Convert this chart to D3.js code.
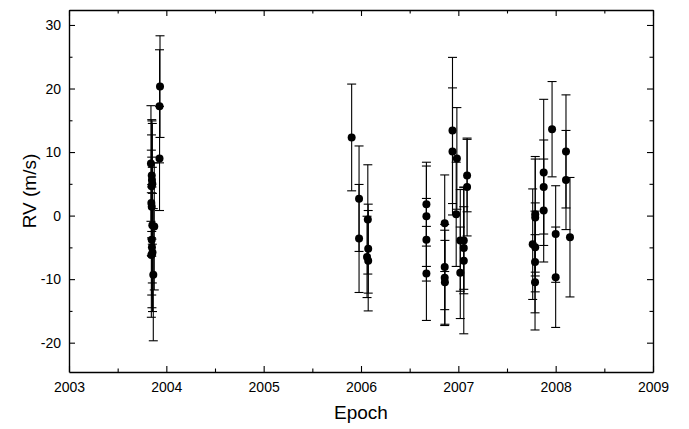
<!DOCTYPE html>
<html>
<head>
<meta charset="utf-8">
<script src="https://cdn.jsdelivr.net/npm/d3@7"></script>
<style>
  html, body { margin: 0; padding: 0; background: #fff; }
  svg { display: block; }
  text { font-family: "Liberation Sans", Arial, sans-serif; fill: #000; }
</style>
</head>
<body>
<svg id="chart" width="689" height="429"></svg>
<script>
// Epoch (years)
const epoch = [
  2003.842, 2003.850, 2003.852, 2003.856, 2003.848, 2003.846, 2003.850,
  2003.856, 2003.876, 2003.850, 2003.852, 2003.858, 2003.846, 2003.866,
  2003.935, 2003.930, 2003.930,
  2005.904, 2005.980, 2005.980, 2006.070, 2006.074, 2006.062, 2006.074,
  2006.672, 2006.672, 2006.672, 2006.672,
  2006.860, 2006.860, 2006.860, 2006.862,
  2006.940, 2006.940, 2006.985, 2006.978,
  2007.020, 2007.020, 2007.056, 2007.056, 2007.056,
  2007.090, 2007.090,
  2007.764, 2007.790, 2007.790, 2007.790, 2007.788, 2007.788,
  2007.877, 2007.877, 2007.877,
  2007.963, 2008.000, 2008.000, 2008.106, 2008.106, 2008.147
];
// Radial velocity (m/s)
const rv = [
  8.2, 6.3, 5.6, 5.0, 4.6, 2.0, 1.4,
  -1.5, -1.7, -3.8, -5.0, -5.8, -6.2, -9.3,
  20.3, 17.2, 9.0,
  12.3, 2.66, -3.6, -0.6, -5.2, -6.5, -7.1,
  1.8, -0.1, -3.8, -9.1,
  -1.2, -8.1, -9.8, -10.5,
  13.4, 10.1, 9.0, 0.2,
  -3.9, -9.0, -3.9, -5.1, -7.1,
  6.3, 4.5,
  -4.5, 0.2, -0.3, -5.0, -7.3, -10.5,
  6.8, 4.5, 0.8,
  13.6, -2.9, -9.7, 10.1, 5.6, -3.4
];
// Error bar half-length (m/s)
const err = [
  9.1, 8.8, 9.3, 9.5, 8.1, 8.3, 7.8,
  9.1, 10.0, 8.7, 9.5, 9.3, 9.8, 10.4,
  8.0, 8.9, 8.2,
  8.4, 8.3, 8.5, 8.6, 7.0, 6.4, 7.9,
  6.6, 7.9, 6.5, 7.4,
  7.6, 6.7, 7.5, 6.6,
  11.5, 10.0, 8.0, 8.2,
  8.0, 7.2, 8.4, 6.5, 11.5,
  5.7, 7.7,
  8.7, 9.1, 9.2, 7.0, 8.0, 7.5,
  11.5, 7.4, 8.1,
  7.5, 7.6, 7.9, 8.9, 7.8, 9.4
];
const xTicks = [2003, 2004, 2005, 2006, 2007, 2008, 2009];
const yTicks = [-20, -10, 0, 10, 20, 30];
const xTitle = "Epoch";
const yTitle = "RV (m/s)";

const svg = d3.select("#chart");
const L = 69, R = 653, T = 10, B = 372;

const x = d3.scaleLinear().domain([2003, 2009]).range([L, R]);
const y = d3.scaleLinear().domain([(215.6 - B) / 6.354, (215.6 - T) / 6.354]).range([B, T]);

const xMinor = d3.range(2003.5, 2009, 1);
const yMinor = [-25, -15, -5, 5, 15, 25].filter(v => v > y.domain()[0] && v < y.domain()[1]);

function styleAxis(g) {
  g.selectAll("path").attr("stroke", "#000").attr("stroke-width", 1.4);
  g.selectAll("line").attr("stroke", "#000").attr("stroke-width", 1.1);
  g.selectAll("text").style("font-family", '"Liberation Sans", Arial, sans-serif').style("font-size", "14px").attr("fill", "#000");
}

// bottom
svg.append("g").attr("transform", `translate(0,${B})`)
  .call(d3.axisBottom(x).tickValues(xTicks).tickFormat(d3.format("d")).tickSizeInner(-6).tickSizeOuter(0).tickPadding(10))
  .call(styleAxis);
svg.append("g").attr("transform", `translate(0,${B})`)
  .call(d3.axisBottom(x).tickValues(xMinor).tickFormat("").tickSizeInner(-3.5).tickSizeOuter(0))
  .call(g => g.select("path").remove()).call(styleAxis);
// top
svg.append("g").attr("transform", `translate(0,${T})`)
  .call(d3.axisTop(x).tickValues(xTicks).tickFormat("").tickSizeInner(-6).tickSizeOuter(0))
  .call(styleAxis);
svg.append("g").attr("transform", `translate(0,${T})`)
  .call(d3.axisTop(x).tickValues(xMinor).tickFormat("").tickSizeInner(-3.5).tickSizeOuter(0))
  .call(g => g.select("path").remove()).call(styleAxis);
// left
svg.append("g").attr("transform", `translate(${L},0)`)
  .call(d3.axisLeft(y).tickValues(yTicks).tickFormat(d3.format("d")).tickSizeInner(-6).tickSizeOuter(0).tickPadding(8))
  .call(styleAxis);
svg.append("g").attr("transform", `translate(${L},0)`)
  .call(d3.axisLeft(y).tickValues(yMinor).tickFormat("").tickSizeInner(-3.5).tickSizeOuter(0))
  .call(g => g.select("path").remove()).call(styleAxis);
// right
svg.append("g").attr("transform", `translate(${R},0)`)
  .call(d3.axisRight(y).tickValues(yTicks).tickFormat("").tickSizeInner(-6).tickSizeOuter(0))
  .call(styleAxis);
svg.append("g").attr("transform", `translate(${R},0)`)
  .call(d3.axisRight(y).tickValues(yMinor).tickFormat("").tickSizeInner(-3.5).tickSizeOuter(0))
  .call(g => g.select("path").remove()).call(styleAxis);

svg.selectAll("text").each(function() {
  const t = d3.select(this).text();
  d3.select(this).text(t.replace("\u2212", "-"));
});

// Data
const data = epoch.map((e, i) => ({ e, v: rv[i], s: err[i] }));
const capW = 4.5;
const gBars = svg.append("g").attr("stroke", "#000").attr("stroke-width", 1.1);
data.forEach(d => {
  const cx = x(d.e), y1 = y(d.v + d.s), y2 = y(d.v - d.s);
  gBars.append("line").attr("x1", cx).attr("x2", cx).attr("y1", y1).attr("y2", y2);
  gBars.append("line").attr("x1", cx - capW).attr("x2", cx + capW).attr("y1", y1).attr("y2", y1);
  gBars.append("line").attr("x1", cx - capW).attr("x2", cx + capW).attr("y1", y2).attr("y2", y2);
});
svg.append("g").selectAll("circle").data(data).join("circle")
  .attr("cx", d => x(d.e)).attr("cy", d => y(d.v)).attr("r", 4).attr("fill", "#000");

// Titles
svg.append("text").attr("x", (L + R) / 2).attr("y", 419).attr("text-anchor", "middle")
  .style("font-size", "19px").text(xTitle);
svg.append("text").attr("transform", `translate(36,${(T + B) / 2}) rotate(-90)`).attr("text-anchor", "middle")
  .style("font-size", "19px").text(yTitle);
</script>
</body>
</html>
